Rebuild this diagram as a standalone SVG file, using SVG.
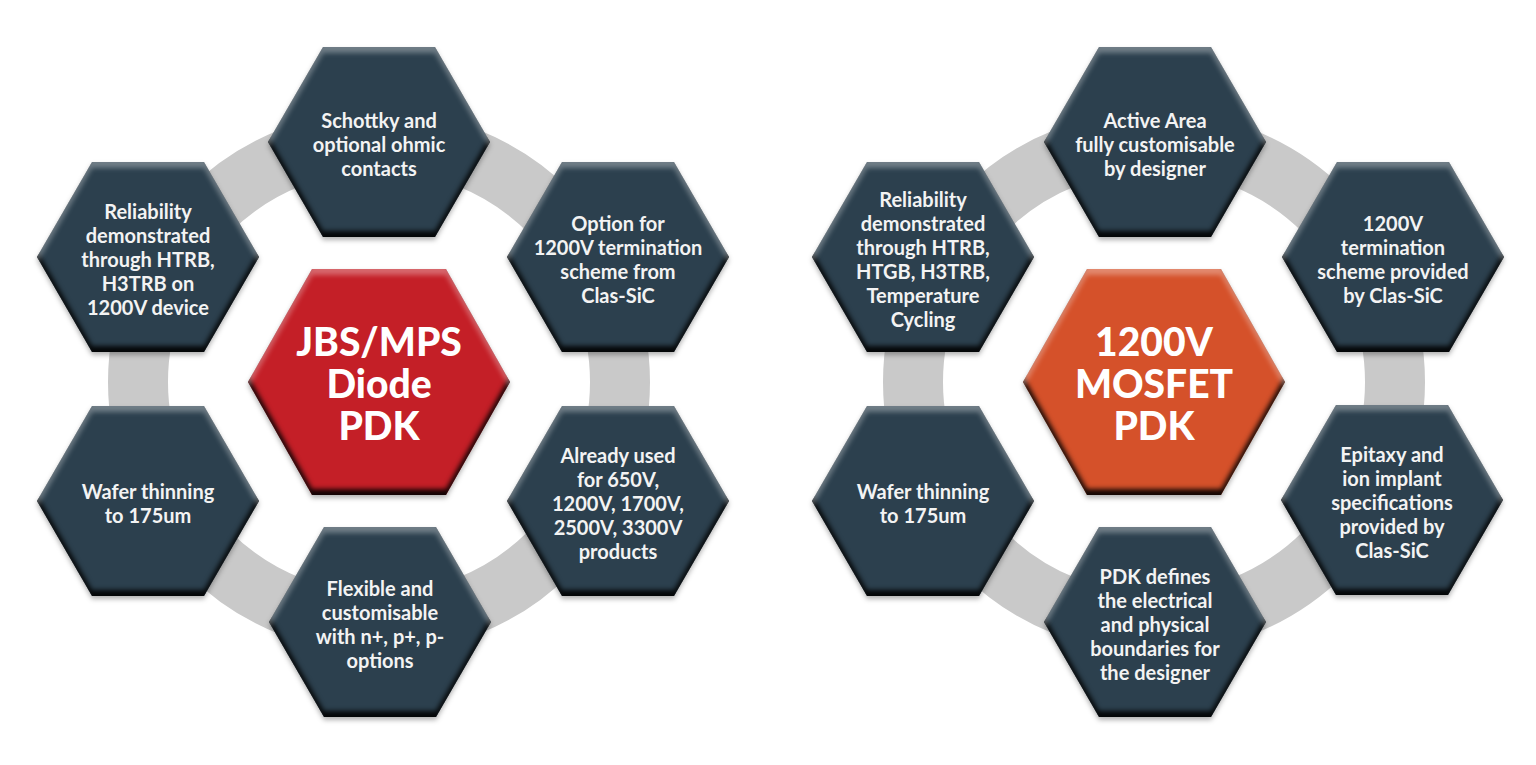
<svg xmlns="http://www.w3.org/2000/svg" xmlns:xlink="http://www.w3.org/1999/xlink" width="1536" height="765" viewBox="0 0 1536 765">
<style>
.ring{fill:none;stroke:#c9c9c9;stroke-width:60}
.hex{fill:#2c404e}
.red{fill:#c41f27}
.orange{fill:#d5512a}
.t{font-family:Lato,"Open Sans","Liberation Sans",sans-serif;font-weight:700;font-size:20px;fill:#f3f3f3;text-anchor:middle}
.c{font-family:Lato,"Open Sans","Liberation Sans",sans-serif;font-weight:900;font-size:39px;fill:#ffffff;text-anchor:middle}
</style>
<defs>
<path id="hx" d="M-111,0 L-56,-95 L56,-95 L111,0 L56,95 L-56,95 Z"/>
<path id="hxc" d="M-131,0 L-67,-113 L67,-113 L131,0 L67,113 L-67,113 Z"/>
<filter id="bevel" x="-10%" y="-10%" width="120%" height="125%" color-interpolation-filters="sRGB">
<feGaussianBlur in="SourceAlpha" stdDeviation="2.5" result="blur"/>
<feOffset in="blur" dy="-6" result="up"/>
<feComposite in="SourceAlpha" in2="up" operator="out" result="bottomBand"/>
<feFlood flood-color="#000" flood-opacity="0.9"/>
<feComposite in2="bottomBand" operator="in" result="dark"/>
<feOffset in="blur" dy="6" result="down"/>
<feComposite in="SourceAlpha" in2="down" operator="out" result="topBand"/>
<feFlood flood-color="#fff" flood-opacity="0.32"/>
<feComposite in2="topBand" operator="in" result="light"/>
<feOffset in="blur" dy="3" result="sh"/>
<feFlood flood-color="#000" flood-opacity="0.3"/>
<feComposite in2="sh" operator="in" result="shadow"/>
<feMerge><feMergeNode in="shadow"/><feMergeNode in="SourceGraphic"/><feMergeNode in="dark"/><feMergeNode in="light"/></feMerge>
</filter>
</defs>
<rect width="1536" height="765" fill="#ffffff"/>
<g id="connectors">
<circle class="ring" cx="379" cy="382" r="241"/>
<circle class="ring" cx="1154" cy="382" r="241"/>
</g>
<!-- Left cluster -->
<g id="diode-center">
<use xlink:href="#hxc" href="#hxc" x="379" y="382" class="red" filter="url(#bevel)"/>
<text class="c" x="379" y="356">JBS/MPS</text>
<text class="c" x="379" y="398">Diode</text>
<text class="c" x="379" y="440">PDK</text>
</g>
<g id="diode-contacts">
<use xlink:href="#hx" href="#hx" x="379" y="142" class="hex" filter="url(#bevel)"/>
<text class="t" x="379" y="127.5">Schottky and</text>
<text class="t" x="379" y="151.5">optional ohmic</text>
<text class="t" x="379" y="175.5">contacts</text>
</g>
<g id="diode-reliability">
<use xlink:href="#hx" href="#hx" x="148" y="257" class="hex" filter="url(#bevel)"/>
<text class="t" x="148" y="218.5">Reliability</text>
<text class="t" x="148" y="242.5">demonstrated</text>
<text class="t" x="148" y="266.5">through HTRB,</text>
<text class="t" x="148" y="290.5">H3TRB on</text>
<text class="t" x="148" y="314.5">1200V device</text>
</g>
<g id="diode-termination">
<use xlink:href="#hx" href="#hx" x="618" y="257" class="hex" filter="url(#bevel)"/>
<text class="t" x="618" y="230.5">Option for</text>
<text class="t" x="618" y="254.5">1200V termination</text>
<text class="t" x="618" y="278.5">scheme from</text>
<text class="t" x="618" y="302.5">Clas-SiC</text>
</g>
<g id="diode-wafer">
<use xlink:href="#hx" href="#hx" x="148" y="501" class="hex" filter="url(#bevel)"/>
<text class="t" x="148" y="498.5">Wafer thinning</text>
<text class="t" x="148" y="522.5">to 175um</text>
</g>
<g id="diode-products">
<use xlink:href="#hx" href="#hx" x="618" y="501" class="hex" filter="url(#bevel)"/>
<text class="t" x="618" y="462.5">Already used</text>
<text class="t" x="618" y="486.5">for 650V,</text>
<text class="t" x="618" y="510.5">1200V, 1700V,</text>
<text class="t" x="618" y="534.5">2500V, 3300V</text>
<text class="t" x="618" y="558.5">products</text>
</g>
<g id="diode-flexible">
<use xlink:href="#hx" href="#hx" x="380" y="622" class="hex" filter="url(#bevel)"/>
<text class="t" x="380" y="595.5">Flexible and</text>
<text class="t" x="380" y="619.5">customisable</text>
<text class="t" x="380" y="643.5">with n+, p+, p-</text>
<text class="t" x="380" y="667.5">options</text>
</g>
<!-- Right cluster -->
<g id="mosfet-center">
<use xlink:href="#hxc" href="#hxc" x="1154" y="382" class="orange" filter="url(#bevel)"/>
<text class="c" x="1154" y="356">1200V</text>
<text class="c" x="1154" y="398">MOSFET</text>
<text class="c" x="1154" y="440">PDK</text>
</g>
<g id="mosfet-active-area">
<use xlink:href="#hx" href="#hx" x="1155" y="142" class="hex" filter="url(#bevel)"/>
<text class="t" x="1155" y="127.5">Active Area</text>
<text class="t" x="1155" y="151.5">fully customisable</text>
<text class="t" x="1155" y="175.5">by designer</text>
</g>
<g id="mosfet-reliability">
<use xlink:href="#hx" href="#hx" x="923" y="257" class="hex" filter="url(#bevel)"/>
<text class="t" x="923" y="206.5">Reliability</text>
<text class="t" x="923" y="230.5">demonstrated</text>
<text class="t" x="923" y="254.5">through HTRB,</text>
<text class="t" x="923" y="278.5">HTGB, H3TRB,</text>
<text class="t" x="923" y="302.5">Temperature</text>
<text class="t" x="923" y="326.5">Cycling</text>
</g>
<g id="mosfet-termination">
<use xlink:href="#hx" href="#hx" x="1393" y="257" class="hex" filter="url(#bevel)"/>
<text class="t" x="1393" y="230.5">1200V</text>
<text class="t" x="1393" y="254.5">termination</text>
<text class="t" x="1393" y="278.5">scheme provided</text>
<text class="t" x="1393" y="302.5">by Clas-SiC</text>
</g>
<g id="mosfet-wafer">
<use xlink:href="#hx" href="#hx" x="923" y="501" class="hex" filter="url(#bevel)"/>
<text class="t" x="923" y="498.5">Wafer thinning</text>
<text class="t" x="923" y="522.5">to 175um</text>
</g>
<g id="mosfet-epitaxy">
<use xlink:href="#hx" href="#hx" x="1392" y="500" class="hex" filter="url(#bevel)"/>
<text class="t" x="1392" y="461.5">Epitaxy and</text>
<text class="t" x="1392" y="485.5">ion implant</text>
<text class="t" x="1392" y="509.5">specifications</text>
<text class="t" x="1392" y="533.5">provided by</text>
<text class="t" x="1392" y="557.5">Clas-SiC</text>
</g>
<g id="mosfet-boundaries">
<use xlink:href="#hx" href="#hx" x="1155" y="622" class="hex" filter="url(#bevel)"/>
<text class="t" x="1155" y="583.5">PDK defines</text>
<text class="t" x="1155" y="607.5">the electrical</text>
<text class="t" x="1155" y="631.5">and physical</text>
<text class="t" x="1155" y="655.5">boundaries for</text>
<text class="t" x="1155" y="679.5">the designer</text>
</g>
</svg>
